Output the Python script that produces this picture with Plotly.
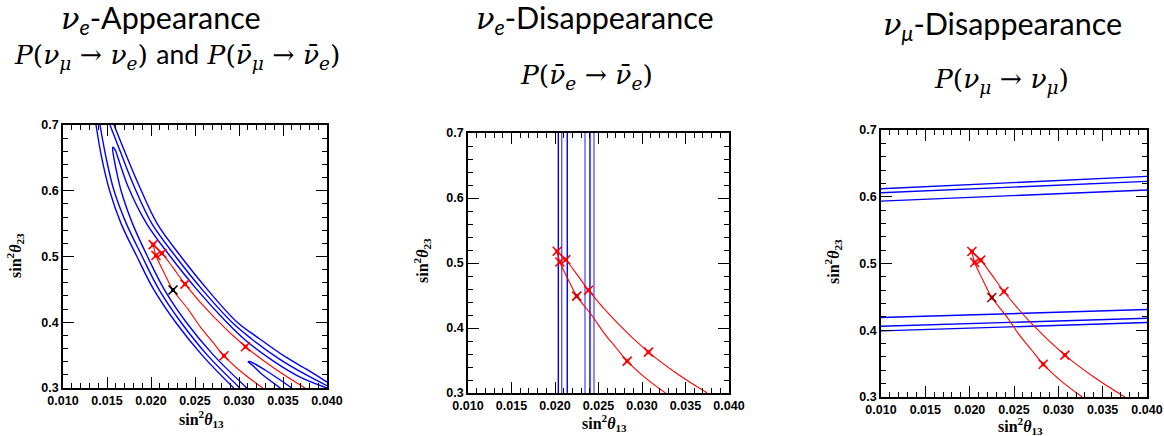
import plotly.graph_objects as go

W, H = 1164, 436

# ---------------- data ----------------
# red curves, identical in all three panels
red_inner_x = [0.02025, 0.02056, 0.0215, 0.0225, 0.0242, 0.0256, 0.0270, 0.0283, 0.0305, 0.0327]
red_inner_y = [0.518, 0.5015, 0.475, 0.449, 0.420, 0.393, 0.370, 0.349, 0.322, 0.300]
red_outer_x = [0.02025, 0.02124, 0.0225, 0.02386, 0.0271, 0.03074, 0.0340, 0.0375]
red_outer_y = [0.518, 0.505, 0.483, 0.458, 0.4085, 0.3628, 0.330, 0.300]
star_x = [0.02025, 0.02056, 0.02124, 0.02386, 0.0283, 0.03074]
star_y = [0.518, 0.5015, 0.505, 0.458, 0.349, 0.3628]
true_x = [0.0225]
true_y = [0.449]

# panel 1 (nu_e appearance) blue contours
app_L3_x = [0.01375, 0.0144, 0.0153, 0.0166, 0.0184, 0.0203, 0.0228, 0.0258, 0.0294]
app_L3_y = [0.70, 0.65, 0.60, 0.55, 0.50, 0.45, 0.40, 0.35, 0.30]
app_L2_x = [0.0142, 0.0149, 0.0158, 0.0172, 0.0190, 0.0209, 0.0234, 0.0264, 0.0301]
app_L2_y = [0.70, 0.65, 0.60, 0.55, 0.50, 0.45, 0.40, 0.35, 0.30]
app_loop_x = [0.0309, 0.0271, 0.0240, 0.0215, 0.0196, 0.0179, 0.0166, 0.0160, 0.01572, 0.01565,
              0.0159, 0.0163, 0.0174, 0.0195, 0.0222, 0.0252, 0.0286, 0.0307, 0.0340, 0.0370, 0.0400]
app_loop_y = [0.30, 0.35, 0.40, 0.45, 0.50, 0.55, 0.60, 0.635, 0.655, 0.666,
              0.663, 0.648, 0.606, 0.55, 0.50, 0.45, 0.40, 0.373, 0.340, 0.316, 0.300]
app_R2_x = [0.01534, 0.0165, 0.0181, 0.0201, 0.0228, 0.0258, 0.0292, 0.0314, 0.0346, 0.0375, 0.0400]
app_R2_y = [0.70, 0.66, 0.606, 0.55, 0.50, 0.45, 0.40, 0.375, 0.344, 0.321, 0.3035]
app_R3_x = [0.0158, 0.0170, 0.0187, 0.0207, 0.0234, 0.0264, 0.0298, 0.0321, 0.0352, 0.0378, 0.0400]
app_R3_y = [0.70, 0.66, 0.606, 0.55, 0.50, 0.45, 0.40, 0.377, 0.348, 0.3275, 0.309]
app_V_x = [0.0360, 0.0330, 0.0312, 0.03105, 0.0315, 0.0325, 0.0347]
app_V_y = [0.300, 0.327, 0.3405, 0.340, 0.335, 0.322, 0.300]

# panel 2 (nu_e disappearance) vertical contour lines
dis_e_x = [0.02038, 0.02077, 0.02141, 0.02345, 0.02402, 0.02448]

# panel 3 (nu_mu disappearance) straight contour lines: y at x=0.010 and x=0.040
dis_mu_xends = [0.010, 0.040]
dis_mu_y_left = [0.612, 0.606, 0.5935, 0.419, 0.406, 0.399]
dis_mu_y_right = [0.6305, 0.623, 0.610, 0.431, 0.418, 0.4115]

x_ticks = [0.010, 0.015, 0.020, 0.025, 0.030, 0.035, 0.040]
y_ticks = [0.3, 0.4, 0.5, 0.6, 0.7]

NU = "<span style='font-family:DejaVu Serif'><i>ν</i></span>"
titles = [NU + "<sub><i>e</i></sub>-Appearance",
          NU + "<sub><i>e</i></sub>-Disappearance",
          NU + "<sub><i>μ</i></sub>-Disappearance"]
subtitles = [
    "<i>P</i>(<i>ν</i><sub><i>μ</i></sub> → <i>ν</i><sub><i>e</i></sub>) "
    "<span style='font-family:Lato'>and</span> "
    "<i>P</i>(<i>ν̄</i><sub><i>μ</i></sub> → <i>ν̄</i><sub><i>e</i></sub>)",
    "<i>P</i>(<i>ν̄</i><sub><i>e</i></sub> → <i>ν̄</i><sub><i>e</i></sub>)",
    "<i>P</i>(<i>ν</i><sub><i>μ</i></sub> → <i>ν</i><sub><i>μ</i></sub>)",
]

# ---------------- layout geometry (page pixels) ----------------
panels = [  # x0, x1, ytop, ybot
    (63, 327, 125, 388),
    (468, 729, 133, 393),
    (881, 1147, 130, 397),
]
title_pos = [(161, 19), (595, 20), (1002, 26)]
sub_pos = [(177, 56), (586, 76), (1001, 81)]
xtitle_pos = [(201, 419), (604, 423), (1020, 426)]
ytitle_pos = [(15, 256), (422, 261), (833, 262)]

fig = go.Figure()
BLUE = "#0000ff"
LBLUE = "#5c5cff"
RED = "#ff0000"


def px_x(p):
    return p / W


def px_y(p):
    return 1 - p / H


def add_line(i, x, y, color, width=1.2, shape="spline"):
    ax = "" if i == 0 else str(i + 1)
    fig.add_trace(go.Scatter(x=x, y=y, mode="lines", xaxis="x" + ax, yaxis="y" + ax,
                             line=dict(color=color, width=width, shape=shape, smoothing=1.0),
                             hoverinfo="skip", showlegend=False))


def add_stars(i, xs, ys, color):
    ax = "" if i == 0 else str(i + 1)
    fig.add_trace(go.Scatter(x=xs, y=ys, mode="markers", xaxis="x" + ax, yaxis="y" + ax,
                             marker=dict(symbol="x-thin-open", size=9, color=color,
                                         line=dict(color=color, width=1.6)),
                             hoverinfo="skip", showlegend=False))
    fig.add_trace(go.Scatter(x=xs, y=ys, mode="markers", xaxis="x" + ax, yaxis="y" + ax,
                             marker=dict(symbol="square", size=4, color=color, line=dict(width=0)),
                             hoverinfo="skip", showlegend=False))


def add_red(i, true_color):
    add_line(i, red_inner_x, red_inner_y, RED, 1.1)
    add_line(i, red_outer_x, red_outer_y, RED, 1.1)
    add_stars(i, star_x, star_y, RED)
    add_stars(i, true_x, true_y, true_color)


# panel 1
for cx, cy in [(app_L3_x, app_L3_y), (app_L2_x, app_L2_y), (app_loop_x, app_loop_y),
               (app_R2_x, app_R2_y), (app_R3_x, app_R3_y), (app_V_x, app_V_y)]:
    add_line(0, cx, cy, BLUE, 1.4)
add_red(0, "#000000")

# panel 2
for k, xv in enumerate(dis_e_x):
    add_line(1, [xv, xv], [0.3, 0.7], BLUE if k % 2 == 0 else LBLUE, 1.4, "linear")
add_red(1, "#d00000")

# panel 3
for yl, yr in zip(dis_mu_y_left, dis_mu_y_right):
    add_line(2, dis_mu_xends, [yl, yr], BLUE, 1.4, "linear")
add_red(2, "#a00000")

tickfont = dict(family="Liberation Sans", size=12.5, color="black", weight="bold")
for i, (x0, x1, yt, yb) in enumerate(panels):
    sfx = "" if i == 0 else str(i + 1)
    common = dict(ticks="inside", ticklen=11, tickwidth=1.3, tickcolor="black",
                  showline=True, linecolor="black", linewidth=1.6, mirror="allticks",
                  showgrid=False, zeroline=False, tickfont=tickfont, automargin=False)
    xa = dict(domain=[px_x(x0), px_x(x1)], range=[0.010, 0.040], anchor="y" + sfx,
              tickvals=x_ticks, tickformat=".3f",
              minor=dict(dtick=0.001, ticks="inside", ticklen=5, tickwidth=1.1,
                         tickcolor="black", showgrid=False), **common)
    ya = dict(domain=[px_y(yb), px_y(yt)], range=[0.3, 0.7], anchor="x" + sfx,
              tickvals=y_ticks, tickformat=".1f",
              minor=dict(dtick=0.02, ticks="inside", ticklen=5, tickwidth=1.1,
                         tickcolor="black", showgrid=False), **common)
    fig.layout["xaxis" + sfx] = xa
    fig.layout["yaxis" + sfx] = ya

annotations = []
for i in range(3):
    tx, ty = title_pos[i]
    annotations.append(dict(x=px_x(tx), y=px_y(ty), xref="paper", yref="paper",
                            text=titles[i], showarrow=False, xanchor="center", yanchor="middle",
                            font=dict(family="Lato", size=30.5, color="black")))
    sx, sy = sub_pos[i]
    annotations.append(dict(x=px_x(sx), y=px_y(sy), xref="paper", yref="paper",
                            text=subtitles[i], showarrow=False, xanchor="center", yanchor="middle",
                            font=dict(family="DejaVu Serif", size=26.5, color="black")))
    ax_, ay_ = xtitle_pos[i]
    annotations.append(dict(x=px_x(ax_), y=px_y(ay_), xref="paper", yref="paper",
                            text="<b>sin<sup>2</sup><i>θ</i><sub>13</sub></b>", showarrow=False,
                            xanchor="center", yanchor="middle",
                            font=dict(family="Liberation Serif", size=16, color="black")))
    bx, by = ytitle_pos[i]
    annotations.append(dict(x=px_x(bx), y=px_y(by), xref="paper", yref="paper",
                            text="<b>sin<sup>2</sup><i>θ</i><sub>23</sub></b>", showarrow=False,
                            xanchor="center", yanchor="middle", textangle=-90,
                            font=dict(family="Liberation Serif", size=16, color="black")))

fig.update_layout(width=W, height=H, margin=dict(l=0, r=0, t=0, b=0, autoexpand=False),
                  paper_bgcolor="white", plot_bgcolor="white",
                  annotations=annotations, showlegend=False)

# remove the default 8px page margin so the figure sits at the window's top-left corner
fig.write_html("out.html", config={"displayModeBar": False},
               post_script="document.body.style.margin='0';document.body.style.overflow='hidden';")
